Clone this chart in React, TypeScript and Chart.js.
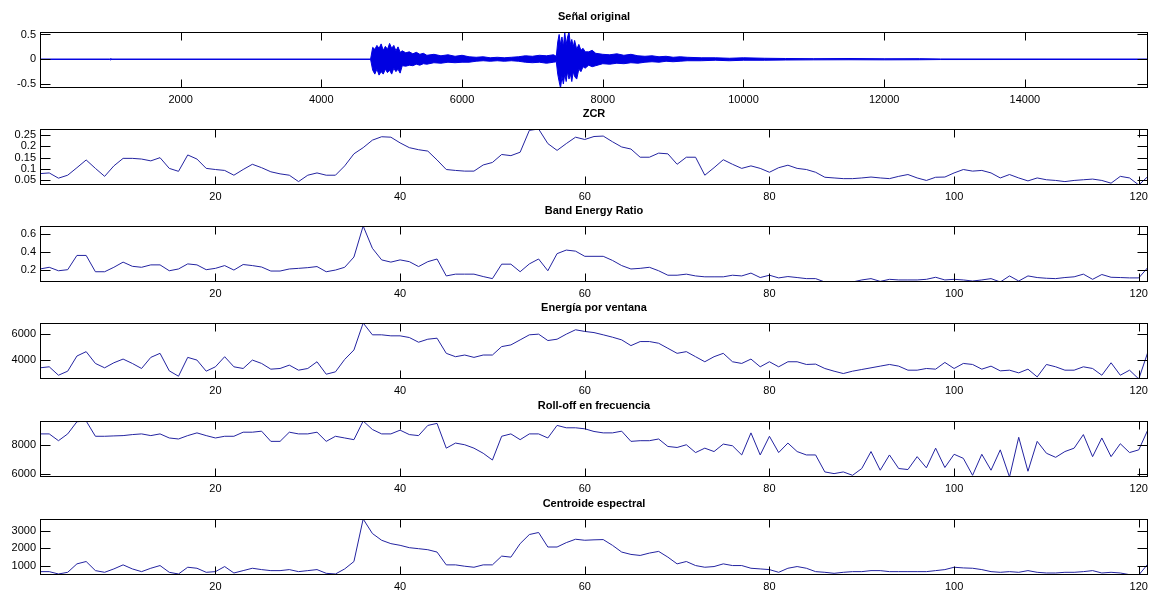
import React, { useEffect, useRef } from 'react';
import { Chart, registerables } from 'chart.js';

Chart.register(...registerables);

const FONT = "'Liberation Sans', Arial, sans-serif";
Chart.defaults.font.family = FONT;
Chart.defaults.color = '#000';

// ---------- Data ----------
// Original signal: amplitude envelope (upper / lower)
const sigX = [
  1, 990, 1000, 1010, 4700,
  4730, 4760, 4790, 4820, 4850, 4880, 4910, 4940, 4970, 5000, 5030, 5060, 5090, 5120, 5150,
  5200, 5250, 5300, 5350, 5400, 5450, 5500, 5600, 5700, 5800, 5900, 6000, 6100, 6200, 6300, 6400,
  6500, 6600, 6700, 6800, 6900, 7000, 7100, 7200, 7300, 7340,
  7360, 7380, 7400, 7420, 7440, 7460, 7480, 7500, 7520, 7540, 7560, 7580, 7600, 7630, 7660, 7690, 7720, 7750,
  7800, 7850, 7900, 8000, 8100, 8200, 8300, 8400, 8500, 8600, 8700, 8800, 8900, 9000, 9100, 9200,
  9400, 9600, 9800, 10000, 10300, 10600, 11000, 11500, 12000, 12500, 12800, 15750,
];
const sigUpper = [
  0.003, 0.003, 0.012, 0.003, 0.003,
  0.24, 0.2, 0.28, 0.22, 0.31, 0.18, 0.26, 0.2, 0.32, 0.22, 0.28, 0.17, 0.25, 0.14, 0.17,
  0.13, 0.15, 0.11, 0.14, 0.1, 0.12, 0.08, 0.1, 0.07, 0.09, 0.06, 0.08, 0.05, 0.04, 0.05, 0.03,
  0.04, 0.03, 0.04, 0.05, 0.07, 0.06, 0.08, 0.07, 0.09, 0.06,
  0.35, 0.5, 0.3, 0.45, 0.25, 0.54, 0.3, 0.45, 0.55, 0.3, 0.4, 0.25, 0.38, 0.2, 0.3, 0.18, 0.22, 0.15,
  0.15, 0.18, 0.12, 0.1, 0.09, 0.11, 0.08, 0.1, 0.07, 0.06, 0.07, 0.05, 0.06, 0.04, 0.05, 0.04,
  0.03, 0.03, 0.02, 0.03, 0.02, 0.015, 0.012, 0.015, 0.01, 0.012, 0.006, 0.004,
];
const sigLower = [
  -0.003, -0.003, -0.012, -0.003, -0.003,
  -0.22, -0.3, -0.2, -0.32, -0.25, -0.3, -0.2, -0.27, -0.22, -0.3, -0.18, -0.25, -0.2, -0.28, -0.13,
  -0.14, -0.12, -0.13, -0.1, -0.12, -0.09, -0.1, -0.07, -0.08, -0.06, -0.07, -0.06, -0.06, -0.04, -0.03, -0.04,
  -0.03, -0.04, -0.03, -0.04, -0.06, -0.07, -0.06, -0.08, -0.06, -0.05,
  -0.3, -0.45, -0.58, -0.35, -0.5, -0.3, -0.45, -0.25, -0.4, -0.3, -0.45, -0.25, -0.35, -0.4, -0.2, -0.25, -0.15, -0.18,
  -0.12, -0.15, -0.13, -0.09, -0.1, -0.08, -0.09, -0.07, -0.08, -0.06, -0.05, -0.06, -0.04, -0.05, -0.04, -0.03,
  -0.03, -0.02, -0.03, -0.02, -0.02, -0.015, -0.012, -0.01, -0.012, -0.01, -0.006, -0.004,
];
const sigXTicks = [2000, 4000, 6000, 8000, 10000, 12000, 14000];
const sigYTicks = [-0.5, 0, 0.5];

// Feature frames 1..121
const frameXTicks = [20, 40, 60, 80, 100, 120];

const zcr = [
  0.080, 0.083, 0.060, 0.073, 0.106, 0.140, 0.103, 0.068, 0.114, 0.147,
  0.147, 0.144, 0.136, 0.150, 0.103, 0.090, 0.162, 0.144, 0.103, 0.098,
  0.094, 0.073, 0.098, 0.121, 0.106, 0.088, 0.079, 0.073, 0.045, 0.073,
  0.083, 0.073, 0.073, 0.114, 0.167, 0.194, 0.227, 0.242, 0.240, 0.215,
  0.194, 0.185, 0.179, 0.140, 0.098, 0.094, 0.091, 0.091, 0.118, 0.129,
  0.164, 0.159, 0.174, 0.270, 0.276, 0.212, 0.182, 0.212, 0.240, 0.230,
  0.243, 0.245, 0.220, 0.197, 0.188, 0.152, 0.152, 0.170, 0.167, 0.121,
  0.152, 0.152, 0.073, 0.106, 0.141, 0.121, 0.103, 0.114, 0.103, 0.086,
  0.106, 0.117, 0.103, 0.098, 0.086, 0.064, 0.061, 0.058, 0.058, 0.061,
  0.065, 0.061, 0.058, 0.068, 0.076, 0.061, 0.050, 0.064, 0.065, 0.083,
  0.098, 0.091, 0.094, 0.083, 0.061, 0.076, 0.061, 0.048, 0.061, 0.053,
  0.050, 0.045, 0.050, 0.053, 0.056, 0.050, 0.038, 0.068, 0.061, 0.030, 0.068,
];
const zcrTicks = [0.05, 0.1, 0.15, 0.2, 0.25];

const ber = [
  0.208, 0.227, 0.188, 0.200, 0.360, 0.360, 0.177, 0.177, 0.227, 0.285,
  0.238, 0.227, 0.254, 0.254, 0.188, 0.208, 0.265, 0.254, 0.200, 0.215,
  0.246, 0.196, 0.258, 0.246, 0.230, 0.185, 0.185, 0.208, 0.215, 0.223,
  0.235, 0.177, 0.196, 0.227, 0.342, 0.690, 0.440, 0.310, 0.285, 0.310,
  0.290, 0.235, 0.290, 0.320, 0.130, 0.150, 0.150, 0.150, 0.123, 0.100,
  0.262, 0.262, 0.177, 0.265, 0.320, 0.188, 0.380, 0.420, 0.408, 0.350,
  0.350, 0.350, 0.304, 0.246, 0.208, 0.215, 0.227, 0.188, 0.138, 0.138,
  0.150, 0.130, 0.120, 0.120, 0.120, 0.138, 0.130, 0.162, 0.112, 0.138,
  0.108, 0.123, 0.112, 0.100, 0.100, 0.062, 0.062, 0.062, 0.062, 0.085,
  0.100, 0.069, 0.092, 0.085, 0.085, 0.085, 0.092, 0.115, 0.085, 0.092,
  0.085, 0.073, 0.085, 0.100, 0.062, 0.130, 0.073, 0.130, 0.112, 0.104,
  0.100, 0.112, 0.120, 0.150, 0.092, 0.146, 0.115, 0.112, 0.108, 0.108, 0.227,
];
const berTicks = [0.2, 0.4, 0.6];

const energia = [
  3403, 3481, 2831, 3143, 4312, 4650, 3740, 3403, 3792, 4078,
  3740, 3351, 4208, 4520, 3169, 2754, 4208, 4000, 3143, 3481,
  4260, 3481, 3351, 4000, 3740, 3299, 3351, 3610, 3221, 3351,
  3870, 2909, 3091, 4052, 4779, 6860, 5948, 5948, 5870, 5870,
  5740, 5377, 5610, 5688, 4520, 4260, 4390, 4208, 4390, 4390,
  5039, 5169, 5558, 5948, 6000, 5507, 5610, 6000, 6338, 6208,
  6120, 5948, 5766, 5558, 5117, 5429, 5429, 5299, 4909, 4520,
  4650, 4260, 3870, 4260, 4520, 3870, 3740, 4078, 3481, 3870,
  3481, 3870, 3870, 3662, 3688, 3351, 3143, 2961, 3143, 3273,
  3403, 3533, 3662, 3533, 3221, 3221, 3351, 3299, 3818, 3351,
  3740, 3662, 3299, 3533, 3169, 3221, 3013, 3299, 2701, 3662,
  3481, 3221, 3221, 3481, 3351, 2831, 3792, 2831, 3221, 2540, 4650,
];
const energiaTicks = [4000, 6000];

const rolloff = [
  8736, 8736, 8276, 8736, 9560, 9610, 8575, 8575, 8600, 8621,
  8690, 8736, 8621, 8736, 8460, 8391, 8621, 8805, 8621, 8460,
  8575, 8575, 8851, 8851, 8920, 8230, 8230, 8851, 8736, 8736,
  8851, 8230, 8575, 8460, 8345, 9610, 9035, 8736, 8736, 8989,
  8690, 8621, 9311, 9449, 7770, 8115, 8000, 7770, 7425, 6965,
  8575, 8736, 8345, 8736, 8736, 8460, 9311, 9150, 9150, 9081,
  8900, 8805, 8805, 8920, 8230, 8276, 8276, 8391, 7885, 7816,
  8000, 7471, 7770, 7540, 8046, 7931, 7310, 8805, 7310, 8575,
  7471, 8115, 7540, 7310, 7310, 6160, 6045, 6160, 5930, 6390,
  7540, 6275, 7310, 6390, 6321, 7195, 6436, 7770, 6459, 7356,
  7080, 5930, 7356, 6275, 7655, 5816, 8506, 6206, 8230, 7425,
  7149, 7540, 7770, 8690, 7195, 8460, 7195, 8069, 7471, 7655, 9035,
];
const rolloffTicks = [6000, 8000];

const centroide = [
  650, 650, 514, 611, 1097, 1233, 708, 611, 806, 1039,
  806, 650, 844, 1000, 611, 514, 903, 844, 611, 650,
  942, 572, 708, 844, 767, 708, 708, 767, 650, 708,
  767, 553, 514, 806, 1233, 3680, 2845, 2456, 2262, 2165,
  2029, 1971, 1912, 1777, 1039, 1039, 961, 903, 1039, 1039,
  1544, 1485, 2262, 2786, 2903, 2068, 2068, 2320, 2515, 2456,
  2480, 2495, 2165, 1777, 1641, 1582, 1718, 1815, 1485, 1097,
  1233, 1000, 903, 942, 1097, 1000, 1000, 844, 806, 767,
  611, 844, 942, 844, 650, 611, 553, 611, 650, 650,
  708, 708, 650, 650, 650, 650, 650, 708, 767, 903,
  864, 844, 767, 650, 611, 650, 611, 708, 611, 572,
  572, 611, 611, 650, 708, 572, 611, 572, 475, 456, 1097,
];
const centroideTicks = [1000, 2000, 3000];

const frames = zcr.map((_, i) => i + 1);

// ---------- Chart helpers ----------
const LINE_COLOR = 'rgb(35,35,160)';
const SIG_COLOR = 'rgb(0,0,225)';

const matlabBox = {
  id: 'matlabBox',
  afterDraw(chart: any, _args: any, opts: any) {
    const { ctx, chartArea: a, scales } = chart;
    ctx.save();
    ctx.strokeStyle = '#000';
    ctx.lineWidth = 1;
    const L = Math.round(a.left) + 0.5;
    const R = Math.round(a.right) - 0.5;
    const T = Math.round(a.top) + 0.5;
    const B = Math.round(a.bottom) - 0.5;
    ctx.strokeRect(L, T, R - L, B - T);
    ctx.beginPath();
    scales.x.ticks.forEach((t: any) => {
      const px = Math.round(scales.x.getPixelForValue(t.value)) + 0.5;
      ctx.moveTo(px, B); ctx.lineTo(px, B - 8);
      ctx.moveTo(px, T); ctx.lineTo(px, T + 8);
    });
    scales.y.ticks.forEach((t: any) => {
      const py = Math.round(scales.y.getPixelForValue(t.value)) + 0.5;
      ctx.moveTo(L, py); ctx.lineTo(L + 10, py);
      ctx.moveTo(R, py); ctx.lineTo(R - 10, py);
    });
    ctx.stroke();
    ctx.font = `bold 11px ${FONT}`;
    ctx.fillStyle = '#000';
    ctx.textAlign = 'center';
    ctx.textBaseline = 'middle';
    ctx.fillText(opts.text, (a.left + a.right) / 2, a.top - 15);
    ctx.restore();
  },
};

type Spec = {
  title: string;
  boxTop: number;
  datasets: any[];
  xMin: number;
  xMax: number;
  xTicks: number[];
  yMin: number;
  yMax: number;
  yTicks: number[];
};

const CANVAS_H = 97;
const PAD_TOP = 24;
const X_AXIS_H = 17;

function Subplot({ spec }: { spec: Spec }) {
  const ref = useRef<HTMLCanvasElement | null>(null);
  useEffect(() => {
    if (!ref.current) return;
    const chart = new Chart(ref.current, {
      type: 'line',
      data: { datasets: spec.datasets },
      plugins: [matlabBox as any],
      options: {
        responsive: false,
        animation: false,
        events: [],
        layout: { padding: { top: PAD_TOP, right: 8, left: 0, bottom: 0 } },
        elements: { point: { radius: 0 }, line: { tension: 0 } },
        plugins: {
          legend: { display: false },
          tooltip: { enabled: false },
          matlabBox: { text: spec.title },
        } as any,
        scales: {
          x: {
            type: 'linear',
            min: spec.xMin,
            max: spec.xMax,
            grid: { display: false, drawTicks: false },
            border: { display: false },
            ticks: {
              autoSkip: false,
              maxRotation: 0,
              padding: 5,
              font: { size: 11, family: FONT },
              color: '#000',
              callback: (v: any) => String(v),
            },
            afterBuildTicks: (s: any) => {
              s.ticks = spec.xTicks.map((v) => ({ value: v }));
            },
            afterFit: (s: any) => {
              s.height = X_AXIS_H;
              s.paddingLeft = 0; s.paddingRight = 0;
            },
          },
          y: {
            type: 'linear',
            min: spec.yMin,
            max: spec.yMax,
            grid: { display: false, drawTicks: false },
            border: { display: false },
            ticks: {
              autoSkip: false,
              padding: 4,
              font: { size: 11, family: FONT },
              color: '#000',
              callback: (v: any) => String(v),
            },
            afterBuildTicks: (s: any) => {
              s.ticks = spec.yTicks.map((v) => ({ value: v }));
            },
            afterFit: (s: any) => {
              s.width = 40;
              s.paddingTop = 0; s.paddingBottom = 0;
            },
          },
        },
      } as any,
    });
    return () => chart.destroy();
  }, []);
  return (
    <div style={{ position: 'absolute', left: 0, top: spec.boxTop - PAD_TOP, width: 1156, height: CANVAS_H }}>
      <canvas ref={ref} width={1156} height={CANVAS_H} style={{ display: 'block' }} />
    </div>
  );
}

function featureSpec(title: string, boxTop: number, values: number[], yTicks: number[]): Spec {
  return {
    title,
    boxTop,
    datasets: [
      {
        data: frames.map((f, i) => ({ x: f, y: values[i] })),
        borderColor: LINE_COLOR,
        borderWidth: 1,
        fill: false,
      },
    ],
    xMin: 1,
    xMax: 121,
    xTicks: frameXTicks,
    yMin: Math.min(...values),
    yMax: Math.max(...values),
    yTicks,
  };
}

const specs: Spec[] = [
  {
    title: 'Señal original',
    boxTop: 32,
    datasets: [
      {
        data: sigX.map((x, i) => ({ x, y: sigUpper[i] })),
        borderColor: SIG_COLOR,
        borderWidth: 1,
        fill: false,
      },
      {
        data: sigX.map((x, i) => ({ x, y: sigLower[i] })),
        borderColor: SIG_COLOR,
        borderWidth: 1,
        backgroundColor: SIG_COLOR,
        fill: '-1',
      },
    ],
    xMin: 1,
    xMax: 15750,
    xTicks: sigXTicks,
    yMin: Math.min(...sigLower),
    yMax: Math.max(...sigUpper),
    yTicks: sigYTicks,
  },
  featureSpec('ZCR', 129, zcr, zcrTicks),
  featureSpec('Band Energy Ratio', 226, ber, berTicks),
  featureSpec('Energía por ventana', 323, energia, energiaTicks),
  featureSpec('Roll-off en frecuencia', 421, rolloff, rolloffTicks),
  featureSpec('Centroide espectral', 519, centroide, centroideTicks),
];

export default function App() {
  return (
    <div style={{ position: 'absolute', left: 0, top: 0, width: 1156, height: 595, background: '#fff', overflow: 'hidden' }}>
      {specs.map((s, i) => (
        <Subplot key={i} spec={s} />
      ))}
    </div>
  );
}
